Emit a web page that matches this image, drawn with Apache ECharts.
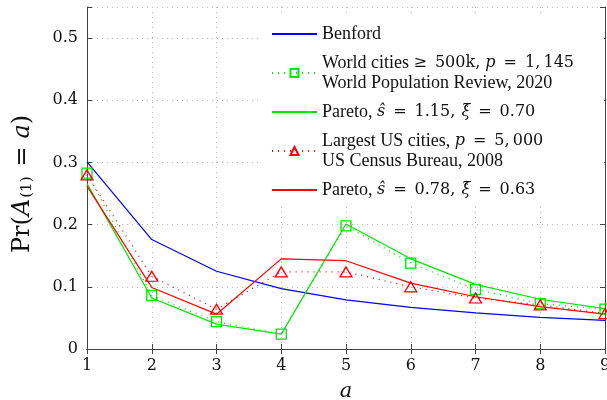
<!DOCTYPE html>
<html>
<head>
<meta charset="utf-8">
<script src="https://cdn.jsdelivr.net/npm/echarts@6/dist/echarts.min.js"></script>
<style>
  html, body { margin: 0; padding: 0; background: #fff; }
  #chart { width: 607px; height: 400px; }
</style>
</head>
<body>
<div id="chart"></div>
<script>
// data
var digits = [1, 2, 3, 4, 5, 6, 7, 8, 9];
var benford = [0.301, 0.176, 0.125, 0.097, 0.079, 0.067, 0.058, 0.051, 0.046];
var worldCities = [0.283, 0.086, 0.044, 0.024, 0.198, 0.138, 0.096, 0.073, 0.064];
var paretoWorld = [0.266, 0.082, 0.040, 0.024, 0.201, 0.145, 0.104, 0.080, 0.065];
var usCities = [0.280, 0.117, 0.064, 0.124, 0.124, 0.100, 0.082, 0.071, 0.057];
var paretoUS = [0.262, 0.099, 0.056, 0.145, 0.142, 0.106, 0.084, 0.068, 0.056];
var yTicks = [0, 0.1, 0.2, 0.3, 0.4, 0.5];

var names = ['Benford', 'World cities', 'Pareto world', 'Largest US cities', 'Pareto US'];
var sp = '\u2002';  // math spacing around relations
// {t| } text, {m| } upright math, {i| } italic math, {h| } narrow hat token over the next glyph
var legendText = {
  'Benford': '{t|Benford}',
  'World cities': '{t|World cities }{m|≥' + sp + '500k, }{i|p}{m|' + sp + '=' + sp + '1,\u2009145}\n{t|World Population Review, 2020}',
  'Pareto world': '{t|Pareto, }{i|ŝ}{m|' + sp + '=' + sp + '1.15, }{h|\u2009ˆ}{i|ξ}{m|' + sp + '=' + sp + '0.70}',
  'Largest US cities': '{t|Largest US cities, }{i|p}{m|' + sp + '=' + sp + '5,\u2009000}\n{t|US Census Bureau, 2008}',
  'Pareto US': '{t|Pareto, }{i|ŝ}{m|' + sp + '=' + sp + '0.78, }{h|\u2009ˆ}{i|ξ}{m|' + sp + '=' + sp + '0.63}'
};

function pairs(ys) {
  return digits.map(function (d, i) { return [d, ys[i]]; });
}

var serif = 'Liberation Serif';
var mathFont = 'DejaVu Serif';
var axisCol = '#444';
var noMark = { color: 'rgba(0,0,0,0)', borderColor: 'rgba(0,0,0,0)', borderWidth: 0 };

var chart = echarts.init(document.getElementById('chart'));

var option = {
  animation: false,
  backgroundColor: '#fff',
  grid: { left: 87, right: 2, top: 7, bottom: 51, outerBoundsMode: 'none' },
  legend: {
    data: [
      { name: 'Benford', itemStyle: noMark },
      { name: 'World cities' },
      { name: 'Pareto world', itemStyle: noMark },
      { name: 'Largest US cities' },
      { name: 'Pareto US', itemStyle: noMark }
    ],
    orient: 'vertical',
    left: 262,
    top: 17,
    padding: [8, 30, 8, 9],
    backgroundColor: '#fff',
    itemWidth: 45,
    itemHeight: 10,
    itemGap: 11,
    formatter: function (n) { return legendText[n]; },
    textStyle: {
      color: '#111',
      rich: {
        t: { fontFamily: serif, fontSize: 18, lineHeight: 20, color: '#111' },
        m: { fontFamily: mathFont, fontSize: 16, lineHeight: 20, color: '#111' },
        i: { fontFamily: mathFont, fontSize: 16, lineHeight: 20, fontStyle: 'italic', color: '#111' },
        h: { fontFamily: mathFont, fontSize: 13, lineHeight: 20, width: 1, color: '#111' }
      }
    }
  },
  xAxis: [{
    type: 'value',
    min: 1,
    max: 9,
    interval: 1,
    name: 'a',
    nameLocation: 'middle',
    nameGap: 32,
    nameTextStyle: { fontFamily: mathFont, fontSize: 21, fontStyle: 'italic', color: '#111' },
    axisLine: { lineStyle: { color: axisCol } },
    axisTick: { inside: true, length: 5, lineStyle: { color: axisCol } },
    axisLabel: { fontFamily: mathFont, fontSize: 16, color: '#111', margin: 9 },
    splitLine: { show: true, lineStyle: { color: '#bbb', type: [1, 4] } }
  }, {
    type: 'value',
    position: 'top',
    min: 1,
    max: 9,
    interval: 1,
    axisLine: { show: true, lineStyle: { color: axisCol } },
    axisTick: { show: true, inside: true, length: 5, lineStyle: { color: axisCol } },
    axisLabel: { show: false },
    splitLine: { show: false }
  }],
  yAxis: [{
    type: 'value',
    min: 0,
    max: 0.55,
    interval: 0.1,
    name: '{t|Pr(}{i|A}{s|(1)}{t|\u2004=\u2004}{i|a}{t|)}',
    nameLocation: 'middle',
    nameGap: 52,
    nameRotate: 90,
    nameTextStyle: {
      padding: [0, 12, 0, 0],
      rich: {
        t: { fontFamily: mathFont, fontSize: 24, color: '#111' },
        i: { fontFamily: mathFont, fontSize: 24, fontStyle: 'italic', color: '#111' },
        s: { fontFamily: mathFont, fontSize: 15, color: '#111', padding: [10, 2, 0, 1] }
      }
    },
    axisLine: { show: true, lineStyle: { color: axisCol } },
    axisTick: { show: true, inside: true, length: 5, lineStyle: { color: axisCol } },
    axisLabel: {
      fontFamily: mathFont, fontSize: 16, color: '#111', margin: 9,
      formatter: function (v) {
        return yTicks.some(function (t) { return Math.abs(t - v) < 1e-9; }) ? String(v) : '';
      }
    },
    splitLine: { show: true, lineStyle: { color: '#bbb', type: [1, 4] } }
  }, {
    type: 'value',
    position: 'right',
    min: 0,
    max: 0.55,
    interval: 0.1,
    axisLine: { show: true, lineStyle: { color: axisCol } },
    axisTick: { show: true, inside: true, length: 5, lineStyle: { color: axisCol } },
    axisLabel: { show: false },
    splitLine: { show: false }
  }],
  series: [
    {
      name: 'Benford',
      type: 'line',
      data: pairs(benford),
      symbol: 'none',
      lineStyle: { color: '#0000ff', width: 1.2 },
      itemStyle: { color: '#0000ff' },
      z: 2
    },
    {
      name: 'World cities',
      type: 'line',
      data: pairs(worldCities),
      symbol: 'rect',
      symbolSize: 10,
      lineStyle: { color: '#00e600', width: 1.3, type: [1, 5] },
      itemStyle: { color: 'rgba(255,255,255,0)', borderColor: '#00e600', borderWidth: 1.3 },
      z: 4
    },
    {
      name: 'Pareto world',
      type: 'line',
      data: pairs(paretoWorld),
      symbol: 'none',
      lineStyle: { color: '#00e600', width: 1.2 },
      itemStyle: { color: '#00e600' },
      z: 3
    },
    {
      name: 'Largest US cities',
      type: 'line',
      data: pairs(usCities),
      symbol: 'triangle',
      symbolSize: [12, 10],
      lineStyle: { color: '#ff0000', width: 1.3, type: [1, 5] },
      itemStyle: { color: 'rgba(255,255,255,0)', borderColor: '#ff0000', borderWidth: 1.3 },
      z: 4
    },
    {
      name: 'Pareto US',
      type: 'line',
      data: pairs(paretoUS),
      symbol: 'none',
      lineStyle: { color: '#ff0000', width: 1.2 },
      itemStyle: { color: '#ff0000' },
      z: 3
    }
  ]
};

chart.setOption(option);
</script>
</body>
</html>
